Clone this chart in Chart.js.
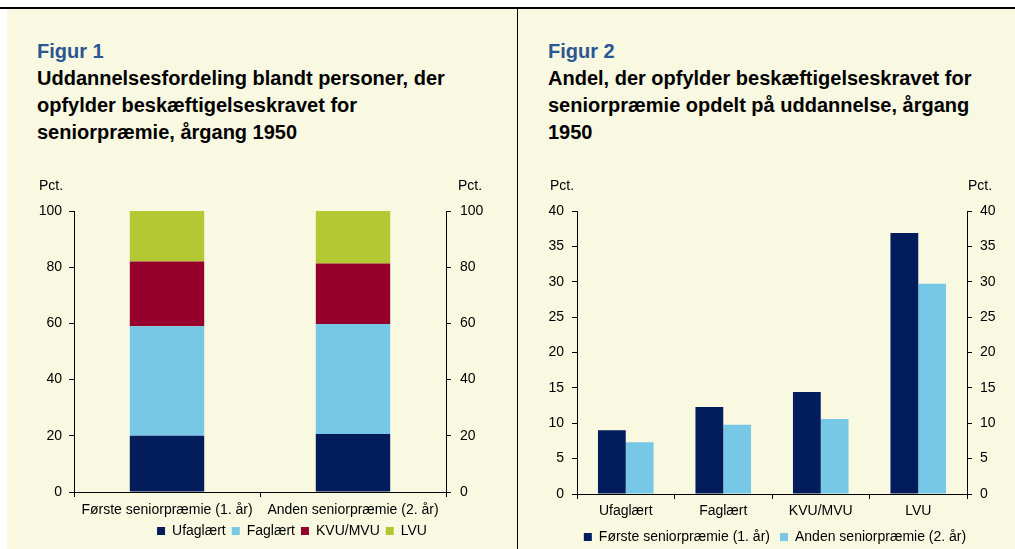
<!DOCTYPE html>
<html>
<head>
<meta charset="utf-8">
<script src="https://cdn.jsdelivr.net/npm/chart.js@4.4.1/dist/chart.umd.min.js"></script>
<style>
  body { margin: 0; background: #fff; overflow: hidden; width: 1015px; height: 549px; position: relative; font-family: "Liberation Sans", Arial, sans-serif; }
  #panel { position: absolute; left: 7px; top: 9px; width: 1008px; height: 540px; background: #F9F8E1; }
  #topline { position: absolute; left: 0; top: 7px; width: 1015px; height: 2px; background: #000; }
  #divider { position: absolute; left: 517px; top: 9px; width: 1px; height: 540px; background: #000; }
  .title { position: absolute; top: 38px; font-size: 20px; font-weight: bold; line-height: 27px; color: #000; white-space: nowrap; }
  .title .fig { color: #2A5792; }
  canvas { position: absolute; }
</style>
</head>
<body>
<div id="panel"></div>
<div id="topline"></div>
<div id="divider"></div>
<div class="title" style="left:37px"><span class="fig">Figur 1</span><br>Uddannelsesfordeling blandt personer, der<br>opfylder beskæftigelseskravet for<br>seniorpræmie, årgang 1950</div>
<div class="title" style="left:548px"><span class="fig">Figur 2</span><br>Andel, der opfylder beskæftigelseskravet for<br>seniorpræmie opdelt på uddannelse, årgang<br>1950</div>
<canvas id="chart1" width="510" height="379" style="left:7px; top:170px"></canvas>
<canvas id="chart2" width="497" height="400" style="left:518px; top:170px"></canvas>
<script>
// Figur 1 - stacked shares
var stackCategories = ['Første seniorpræmie (1. år)', 'Anden seniorpræmie (2. år)'];
var ufaglaert = [20.0, 20.6];
var faglaert = [39.0, 39.2];
var kvuMvu = [23.0, 21.5];
var lvu = [18.0, 18.7];

// Figur 2 - share by education
var eduCategories = ['Ufaglært', 'Faglært', 'KVU/MVU', 'LVU'];
var foersteAar = [9.0, 12.3, 14.4, 36.9];
var andetAar = [7.3, 9.8, 10.6, 29.7];

var NAVY = '#031C5C', LIGHTBLUE = '#76C8E6', RED = '#96002C', GREEN = '#B3C833';

Chart.defaults.font.family = '"Liberation Sans", Arial, sans-serif';
Chart.defaults.font.size = 14;
Chart.defaults.color = '#000';

// draws the "Pct." unit labels above both y axes
var pctLabels = {
  id: 'pctLabels',
  afterDraw: function(chart, args, opts) {
    var ctx = chart.ctx, area = chart.chartArea;
    ctx.save();
    ctx.font = '14px "Liberation Sans", Arial, sans-serif';
    ctx.fillStyle = '#000';
    ctx.textAlign = 'left';
    ctx.textBaseline = 'middle';
    ctx.fillText('Pct.', area.left - opts.left, area.top - 25);
    ctx.fillText('Pct.', area.right + opts.right, area.top - 25);
    ctx.restore();
  }
};

function yAxis(pos, max, step, width, pad) {
  return {
    position: pos,
    min: 0, max: max,
    ticks: { stepSize: step, padding: pad, color: '#000' },
    grid: { drawOnChartArea: false, tickLength: 5, color: '#000' },
    border: { color: '#000' },
    afterFit: function(scale) { scale.width = width; }
  };
}

function xAxis(pad, height) {
  return {
    ticks: { padding: pad, maxRotation: 0, autoSkip: false, color: '#000' },
    grid: { drawOnChartArea: false, tickLength: 5, color: '#000' },
    border: { color: '#000' },
    afterFit: function(scale) { scale.height = height; }
  };
}

new Chart(document.getElementById('chart1'), {
  type: 'bar',
  data: {
    labels: stackCategories,
    datasets: [
      { label: 'Ufaglært', data: ufaglaert, backgroundColor: NAVY },
      { label: 'Faglært', data: faglaert, backgroundColor: LIGHTBLUE },
      { label: 'KVU/MVU', data: kvuMvu, backgroundColor: RED },
      { label: 'LVU', data: lvu, backgroundColor: GREEN }
    ]
  },
  options: {
    responsive: false,
    animation: false,
    devicePixelRatio: 1,
    // negative right padding pushes the centred legend to the right, as in the original
    layout: { padding: { top: 41, left: 0, right: -60, bottom: 1 } },
    datasets: { bar: { barPercentage: 0.4, categoryPercentage: 1 } },
    scales: {
      x: Object.assign(xAxis(5, 26), { stacked: true }),
      y: Object.assign(yAxis('left', 100, 20, 67, 7), { stacked: true }),
      y2: yAxis('right', 100, 20, 131, 9)
    },
    plugins: {
      legend: { position: 'bottom', labels: { boxWidth: 8, boxHeight: 8, padding: 6, color: '#000' } },
      tooltip: { enabled: false },
      pctLabels: { left: 35, right: 12 }
    }
  },
  plugins: [pctLabels]
});

new Chart(document.getElementById('chart2'), {
  type: 'bar',
  data: {
    labels: eduCategories,
    datasets: [
      { label: 'Første seniorpræmie (1. år)', data: foersteAar, backgroundColor: NAVY },
      { label: 'Anden seniorpræmie (2. år)', data: andetAar, backgroundColor: LIGHTBLUE }
    ]
  },
  options: {
    responsive: false,
    animation: false,
    devicePixelRatio: 1,
    layout: { padding: { top: 41, left: 17, right: 0, bottom: 16 } },
    datasets: { bar: { barPercentage: 1, categoryPercentage: 0.57 } },
    scales: {
      x: xAxis(4, 26),
      y: yAxis('left', 40, 5, 42, 8),
      y2: yAxis('right', 40, 5, 48, 8)
    },
    plugins: {
      legend: { position: 'bottom', labels: { boxWidth: 8, boxHeight: 8, padding: 10, color: '#000' } },
      tooltip: { enabled: false },
      pctLabels: { left: 27, right: 1 }
    }
  },
  plugins: [pctLabels]
});
</script>
</body>
</html>
